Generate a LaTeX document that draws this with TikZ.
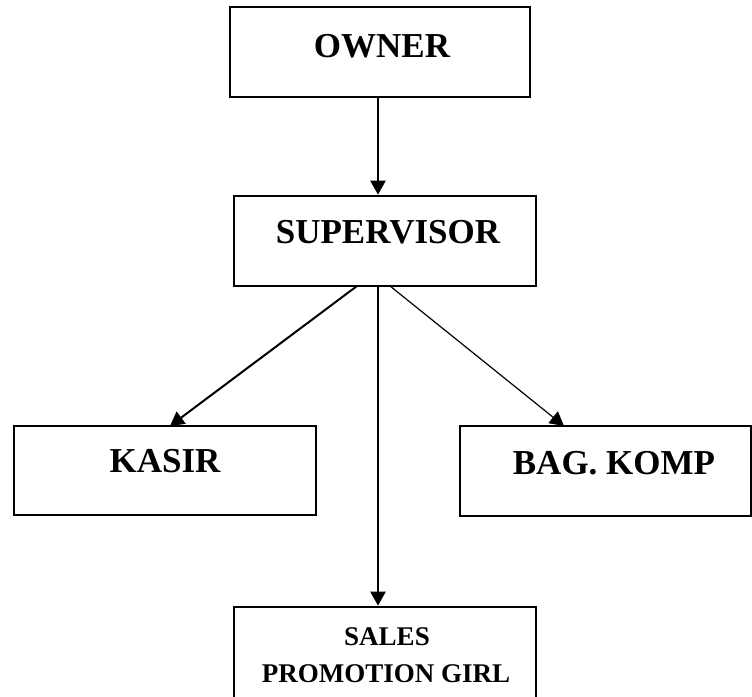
\documentclass[tikz,border=0pt]{standalone}
\usepackage{fontspec}
\setmainfont{Liberation Serif}
\usetikzlibrary{arrows.meta}
\tikzset{
  box/.style={draw=black, line width=2.6pt, fill=none, inner sep=0pt},
  big/.style={font=\fontsize{35}{40}\selectfont\bfseries, inner sep=0pt, anchor=base},
  small/.style={font=\fontsize{27}{32}\selectfont\bfseries, inner sep=0pt, anchor=base},
  conn/.style={draw=black, -{Triangle[width=15pt,length=14pt]}},
}
\begin{document}
\begin{tikzpicture}[x=1pt,y=-1pt]
\useasboundingbox (0,0) rectangle (752,696);
\clip (0,0) rectangle (752,696);
\fill[white] (0,0) rectangle (752,696);
% boxes
\node[box, minimum width=300pt, minimum height=90pt] (owner) at (380,52) {};
\node[box, minimum width=302pt, minimum height=90pt] (sup) at (385,241) {};
\node[box, minimum width=302pt, minimum height=89pt] (kasir) at (165,470.5) {};
\node[box, minimum width=291pt, minimum height=90pt] (komp) at (605.5,471) {};
\node[box, minimum width=302pt, minimum height=120pt] (sales) at (385,667) {};
% texts
\node[big] (towner) at (382,57) {OWNER};
\node[big] (tsup) at (388,243) {SUPERVISOR};
\node[big] (tkasir) at (165,472) {KASIR};
\node[big] (tkomp) at (614,474) {BAG. KOMP};
\node[small] (tsales1) at (387,645) {SALES};
\node[small] (tsales2) at (386,682) {PROMOTION GIRL};
% connector points
\coordinate (spine) at (378,0);
\coordinate (supL) at (357,286);
\coordinate (supR) at (390,286);
\coordinate (kasirTip) at (170,426);
\coordinate (kompTip) at (564,426);
% connectors
\draw[conn, line width=2.2pt] (owner.south -| spine) -- (sup.north -| spine);
\draw[conn, line width=2.2pt] (sup.south -| spine) -- (sales.north -| spine);
\draw[conn, line width=2pt] (supL) -- (kasirTip);
\draw[conn, line width=1.2pt] (supR) -- (kompTip);
\end{tikzpicture}
\end{document}
